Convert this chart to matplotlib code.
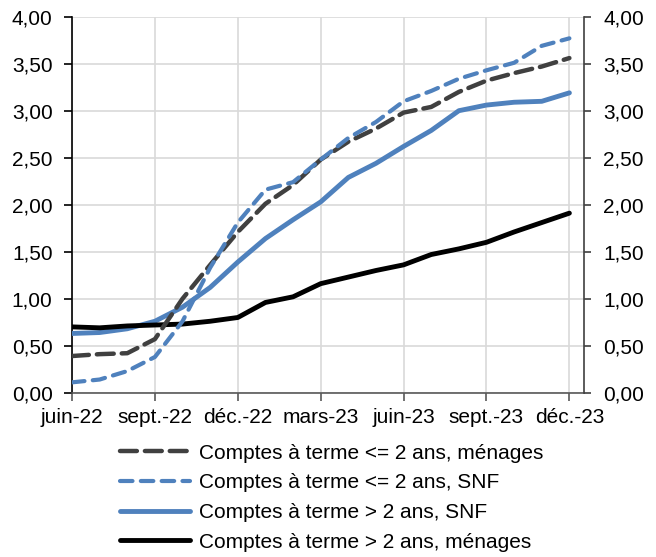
import matplotlib.pyplot as plt
import numpy as np

plt.rcParams['font.family'] = ['Liberation Sans', 'DejaVu Sans']

# monthly data, juin-22 .. déc.-23
mois = ["juin-22", "juil.-22", "août-22", "sept.-22", "oct.-22", "nov.-22", "déc.-22",
        "janv.-23", "févr.-23", "mars-23", "avr.-23", "mai-23", "juin-23",
        "juil.-23", "août-23", "sept.-23", "oct.-23", "nov.-23", "déc.-23"]

cat_menages = [0.39, 0.41, 0.42, 0.57, 1.00, 1.36, 1.71, 2.01, 2.21, 2.48, 2.67, 2.81,
               2.98, 3.04, 3.20, 3.32, 3.40, 3.47, 3.56]
cat_snf = [0.11, 0.14, 0.23, 0.38, 0.76, 1.33, 1.81, 2.16, 2.24, 2.48, 2.71, 2.88,
           3.10, 3.21, 3.34, 3.43, 3.51, 3.69, 3.77]
lt_snf = [0.63, 0.64, 0.68, 0.76, 0.91, 1.12, 1.39, 1.64, 1.84, 2.03, 2.29, 2.44,
          2.62, 2.79, 3.00, 3.06, 3.09, 3.10, 3.19]
lt_menages = [0.70, 0.69, 0.71, 0.72, 0.73, 0.76, 0.80, 0.96, 1.02, 1.16, 1.23, 1.30,
              1.36, 1.47, 1.53, 1.60, 1.71, 1.81, 1.91]

labels = ["Comptes à terme <= 2 ans, ménages",
          "Comptes à terme <= 2 ans, SNF",
          "Comptes à terme > 2 ans, SNF",
          "Comptes à terme > 2 ans, ménages"]

dark = "#404040"
blue = "#4f81bd"

fig = plt.figure(figsize=(6.56, 5.57), dpi=100)
ax = fig.add_axes([0.1098, 0.295, 0.7805, 0.675])

x = np.arange(len(mois))
ax.plot(x, cat_menages, color=dark, lw=3.2, dashes=(3.8, 1.8), dash_capstyle='round',
        label=labels[0], zorder=4)
ax.plot(x, cat_snf, color=blue, lw=3.0, dashes=(3.0, 2.0), dash_capstyle='round',
        label=labels[1], zorder=5)
ax.plot(x, lt_snf, color=blue, lw=3.5, solid_capstyle='round', label=labels[2], zorder=3)
ax.plot(x, lt_menages, color="black", lw=3.5, solid_capstyle='round', label=labels[3], zorder=3)

# right axis sits a bit past the last month
ax.set_xlim(0, len(mois) - 1 + 0.53)
ax.set_ylim(0, 4)
yt = np.arange(0, 4.01, 0.5)
ax.set_yticks(yt)
ax.set_yticklabels([f"{v:.2f}".replace(".", ",") for v in yt])
ax.set_xticks(x[::3])
ax.set_xticklabels(mois[::3])
ax.grid(True, color="#d9d9d9", lw=1.2)
ax.set_axisbelow(True)

ax.spines['top'].set_visible(False)
ax.spines['right'].set_visible(False)
ax.spines['left'].set_color("black")
ax.spines['left'].set_linewidth(1.2)
ax.spines['bottom'].set_color("#595959")
ax.spines['bottom'].set_linewidth(1.2)
ax.tick_params(axis='both', labelsize=15, length=6, width=1.2, color="#595959")
ax.tick_params(axis='y', color="black", pad=8)
ax.tick_params(axis='x', pad=5)

ax2 = ax.twinx()
ax2.set_ylim(0, 4)
ax2.set_yticks(yt)
ax2.set_yticklabels([f"{v:.2f}".replace(".", ",") for v in yt])
for s in ['top', 'left', 'bottom']:
    ax2.spines[s].set_visible(False)
ax2.spines['right'].set_color("#404040")
ax2.spines['right'].set_linewidth(1.2)
ax2.tick_params(axis='y', labelsize=15, length=5, width=1.2, color="#404040", pad=9)

h, l = ax.get_legend_handles_labels()
fig.legend(h, l, loc="upper center", bbox_to_anchor=(0.505, 0.222), frameon=False,
           fontsize=15, handlelength=3.4, labelspacing=0.51, handletextpad=0.4,
           borderpad=0)

fig.savefig("out.png", dpi=100)
